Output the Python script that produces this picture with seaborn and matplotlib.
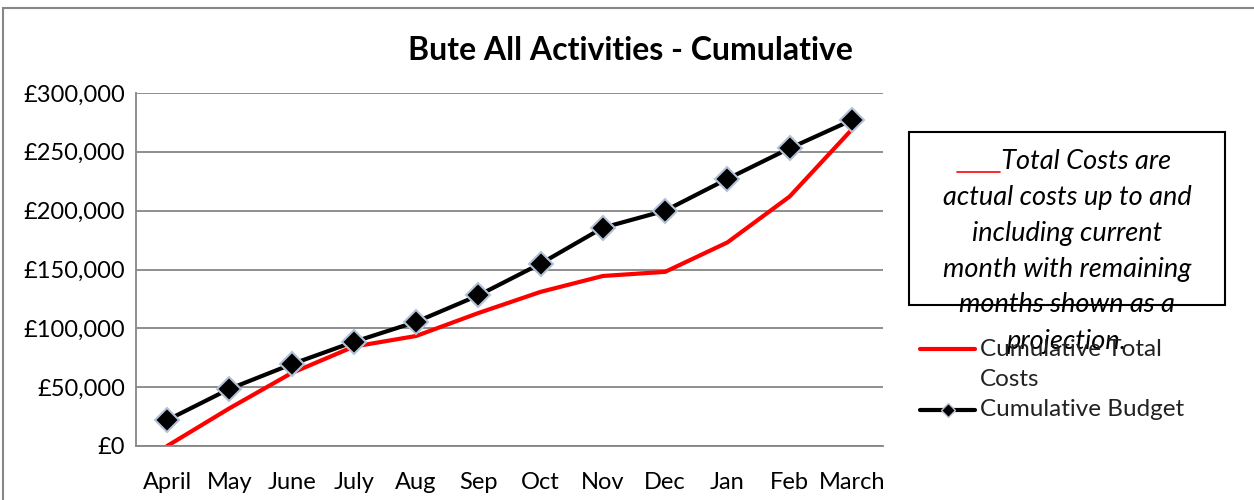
import numpy as np
import pandas as pd
import matplotlib
matplotlib.use("Agg")
import matplotlib.pyplot as plt
import seaborn as sns
from matplotlib.lines import Line2D
from matplotlib.patches import Rectangle
from matplotlib.ticker import FuncFormatter

months = ["April", "May", "June", "July", "Aug", "Sep", "Oct", "Nov", "Dec", "Jan", "Feb", "March"]
total_costs = [0, 32000, 62000, 84500, 93500, 113000, 131000, 144500, 148000, 173000, 212000, 269000]
budget = [22000, 48500, 69500, 88500, 105500, 128000, 155000, 185500, 200000, 227000, 253000, 277000]

sns.set_style("white")
plt.rcParams["font.family"] = ["Lato", "DejaVu Sans"]

fig = plt.figure(figsize=(12.54, 5), dpi=100)
ax = fig.add_axes([136 / 1254, 1 - 446 / 500, (883 - 136) / 1254, (446 - 93) / 500])

df = pd.DataFrame({"month": months, "costs": total_costs, "budget": budget})
sns.lineplot(data=df, x="month", y="costs", sort=False, color="#ff0000", lw=3, ax=ax)
sns.lineplot(data=df, x="month", y="budget", sort=False, color="black", lw=3,
             marker="D", markersize=12, markerfacecolor="black",
             markeredgecolor="#b4c2d6", markeredgewidth=1.5, ax=ax)

ax.set_xlim(-0.5, 11.5)
ax.set_ylim(0, 300000)
ax.set_yticks(np.arange(0, 300001, 50000))
ax.yaxis.set_major_formatter(FuncFormatter(lambda v, p: f"£{int(v):,}"))
ax.grid(axis="y", color="#868686", lw=1.3)
ax.set_axisbelow(True)
for s in ["top", "right"]:
    ax.spines[s].set_visible(False)
for s in ["left", "bottom"]:
    ax.spines[s].set_color("#868686")
    ax.spines[s].set_linewidth(1.3)
ax.tick_params(axis="y", length=5, color="#868686", width=1.3, labelsize=17, pad=3,
               labelcolor="black")
ax.tick_params(axis="x", length=0, labelsize=17, pad=19, labelcolor="black")
ax.set_xlabel("")
ax.set_ylabel("")

fig.text(630 / 1254, 1 - 51 / 500, "Bute All Activities - Cumulative", ha="center", va="center",
         fontsize=23, fontweight="bold", color="black")

# note box
fig.patches.append(Rectangle((909 / 1254, 1 - 305 / 500), (1225 - 909) / 1254, (305 - 132) / 500,
                             transform=fig.transFigure, fill=False, edgecolor="black", lw=1.5))
note = ["      Total Costs are", "actual costs up to and", "including current",
        "month with remaining", "months shown as a", "projection."]
for i, line in enumerate(note):
    fig.text(1067 / 1254, 1 - (161 + i * 36) / 500, line, ha="center", va="center",
             fontsize=19.5, style="italic", color="black")
fig.add_artist(Line2D([957 / 1254, 1000 / 1254], [1 - 172 / 500, 1 - 172 / 500],
                      transform=fig.transFigure, color="red", lw=1.2))

# legend drawn by hand to keep wrapping
fig.add_artist(Line2D([920 / 1254, 975 / 1254], [1 - 349 / 500] * 2, transform=fig.transFigure,
                      color="red", lw=3))
fig.text(980 / 1254, 1 - 349 / 500, "Cumulative Total", va="center", fontsize=17.5, color="#222222")
fig.text(980 / 1254, 1 - 380 / 500, "Costs", va="center", fontsize=17.5, color="#222222")
fig.add_artist(Line2D([920 / 1254, 975 / 1254], [1 - 410 / 500] * 2, transform=fig.transFigure,
                      color="black", lw=3))
fig.add_artist(Line2D([947.5 / 1254], [1 - 410 / 500], transform=fig.transFigure,
                      color="black", marker="D", markersize=7, markeredgecolor="#b4c2d6"))
fig.text(980 / 1254, 1 - 410 / 500, "Cumulative Budget", va="center", fontsize=17.5, color="#222222")

# outer chart frame
fig.patches.append(Rectangle((3 / 1254, -0.1), 1.2, 1 - 8 / 500 + 0.1, transform=fig.transFigure,
                             fill=False, edgecolor="#868686", lw=1.5))

fig.savefig("out.png", dpi=100)
